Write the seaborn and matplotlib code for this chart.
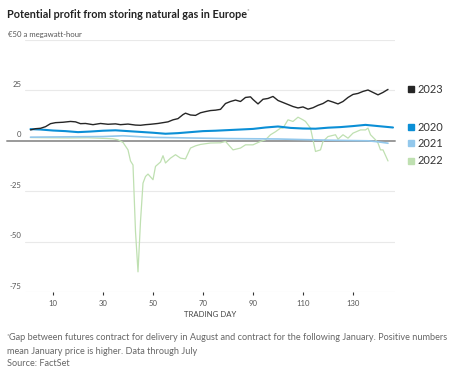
import numpy as np
import pandas as pd
import matplotlib
matplotlib.use("Agg")
import matplotlib.pyplot as plt
import matplotlib.transforms as mtransforms
import seaborn as sns

# --- data (trading day, EUR/MWh) ---
days_2023 = [1, 3, 5, 7, 9, 11, 14, 17, 19, 21, 23, 26, 29, 32, 35, 37, 40, 43, 45, 47,
             49, 52, 54, 56, 58, 60, 62, 63, 65, 67, 69, 71, 73, 75, 77, 79, 81, 83, 85, 87,
             89, 90, 92, 94, 96, 98, 100, 102, 104, 106, 108, 110, 112, 114, 116, 118, 120,
             122, 124, 126, 128, 130, 132, 134, 136, 138, 140, 142, 144]
vals_2023 = [5.4, 6.0, 6.2, 7.0, 8.5, 9.0, 9.2, 9.6, 9.4, 8.5, 8.6, 8.0, 8.6, 8.2, 8.4, 8.0, 8.3,
             7.8, 7.7, 8.0, 8.2, 8.6, 9.0, 9.4, 10.4, 11.0, 13.0, 13.7, 12.8, 12.6, 13.9, 14.5,
             15.0, 15.2, 15.6, 18.5, 19.5, 20.2, 19.5, 21.5, 21.8, 20.5, 18.3, 20.6, 21.0, 22.0,
             20.0, 19.0, 18.0, 17.0, 16.3, 16.8, 15.7, 16.4, 17.6, 18.5, 20.0, 19.2, 18.3, 19.5,
             21.5, 23.0, 23.5, 24.5, 25.2, 24.0, 22.8, 24.0, 25.5]

days_2020 = [1, 5, 10, 15, 20, 25, 30, 35, 40, 45, 50, 55, 60, 65, 70, 75, 80, 85, 90, 95,
             100, 105, 110, 115, 120, 125, 130, 135, 140, 146]
vals_2020 = [5.8, 5.6, 5.1, 4.8, 4.3, 4.6, 5.0, 5.2, 4.8, 4.4, 4.0, 3.5, 3.8, 4.3, 4.8, 5.0,
             5.3, 5.6, 5.9, 6.6, 7.1, 6.4, 6.1, 6.0, 6.5, 6.8, 7.3, 7.9, 7.3, 6.6]

days_2021 = [1, 10, 20, 30, 38, 45, 50, 60, 70, 80, 90, 100, 110, 120, 130, 136, 140, 144]
vals_2021 = [1.8, 1.9, 2.0, 2.1, 2.5, 2.0, 1.7, 1.5, 1.3, 1.1, 1.0, 0.9, 0.6, 0.3, 0.1, 0.0,
             -0.5, -1.2]

days_2022 = [1, 8, 16, 24, 30, 34, 36, 38, 40, 41, 42, 43, 44, 45, 46, 47, 48, 50, 51, 53,
             54, 55, 57, 59, 61, 63, 65, 67, 69, 73, 77, 79, 82, 85, 87, 90, 93, 95, 97, 99,
             101, 102, 104, 106, 108, 110, 111, 113, 114, 115, 117, 118, 120, 123, 124, 126,
             128, 130, 133, 135, 136, 137, 139, 140, 141, 142, 144]
vals_2022 = [1.6, 1.5, 1.4, 1.5, 1.2, 1.0, 0.5, -0.8, -4.5, -10.0, -12.0, -45.0, -65.0, -40.0,
             -21.0, -17.7, -16.5, -19.3, -12.7, -10.5, -7.4, -11.0, -8.6, -6.9, -8.6, -9.0,
             -3.6, -2.5, -1.8, -1.1, -1.0, -0.3, -4.5, -3.6, -2.0, -2.0, -0.3, 0.5, 3.0, 4.5,
             6.3, 6.3, 10.4, 9.6, 11.7, 10.4, 9.6, 6.3, 0.5, -5.3, -4.5, -0.3, 2.1, 3.0, 0.8,
             3.0, 1.3, 3.8, 5.4, 5.4, 6.3, 3.0, 0.5, -1.1, -4.5, -4.5, -10.0]

years = ["2022", "2021", "2020", "2023"]  # drawing order
colors = {"2023": "#262626", "2020": "#0b8fd6", "2021": "#93c8ec", "2022": "#bfe0b1"}
widths = {"2023": 1.0, "2020": 1.5, "2021": 1.2, "2022": 0.9}
legend_order = ["2023", "2020", "2021", "2022"]

yticks = [-75, -50, -25, 0, 25, 50]
xticks = [10, 30, 50, 70, 90, 110, 130]

title = "Potential profit from storing natural gas in Europe"
unit_label = "€50 a megawatt-hour"
note_1 = "Gap between futures contract for delivery in August and contract for the following January. Positive numbers"
note_2 = "mean January price is higher. Data through July"
source = "Source: FactSet"

series = {
    "2023": (days_2023, vals_2023),
    "2020": (days_2020, vals_2020),
    "2021": (days_2021, vals_2021),
    "2022": (days_2022, vals_2022),
}
df = pd.concat(
    [pd.DataFrame({"day": d, "value": v, "year": y}) for y, (d, v) in series.items()],
    ignore_index=True,
)

sns.set_style("white")
plt.rcParams["font.family"] = ["Lato", "DejaVu Sans"]

fig = plt.figure(figsize=(4.68, 3.74), dpi=100)
ax = fig.add_axes([25 / 468, 1 - 292 / 374, 370 / 468, 252 / 374])

# gridlines
for t in yticks:
    if t == 0:
        ax.axhline(0, xmin=-0.049, xmax=1, color="#9a9a9a", lw=1.4, clip_on=False, zorder=1)
    else:
        ax.axhline(t, color="#e9e9e9", lw=0.8, zorder=0)

sns.lineplot(data=df, x="day", y="value", hue="year", hue_order=years, palette=colors,
             size="year", sizes=widths, size_order=years, estimator=None, sort=True,
             legend=False, ax=ax, zorder=2)

ax.set_xlim(-1.2, 146.8)
ax.set_ylim(-75, 50)
for s in ax.spines.values():
    s.set_visible(False)

ax.set_xticks(xticks)
ax.set_xticklabels([str(t) for t in xticks])
ax.tick_params(axis="x", length=2.5, width=0.8, color="#333333", pad=3,
               labelsize=5.6, labelcolor="#555555", bottom=True)
ax.set_xlabel("TRADING DAY", fontsize=5.6, color="#444444", labelpad=3)
ax.set_ylabel("")
ax.set_yticks([])

# y tick labels sit above their gridlines
blend = mtransforms.blended_transform_factory(ax.transAxes, ax.transData)
for t in yticks:
    if t == 50:
        ax.text(-0.046, t + 1.2, unit_label, transform=blend, ha="left", va="bottom",
                fontsize=5.6, color="#555555")
    else:
        ax.text(-0.009, t + 1.2, str(t), transform=blend, ha="right", va="bottom",
                fontsize=5.6, color="#555555")

# end labels with colour squares
for y in legend_order:
    last = series[y][1][-1]
    ax.plot([1.043], [last], marker="s", ms=4.5, color=colors[y], transform=blend,
            clip_on=False, linestyle="none")
    ax.text(1.062, last, y, transform=blend, ha="left", va="center",
            fontsize=7.9, color="#333333")

# title and footnotes
t_obj = fig.text(7 / 468, 1 - 14 / 374, title, ha="left", va="center",
                 fontsize=7.75, fontweight="bold", color="#222222")
ax.annotate("*", xy=(1, 1), xycoords=t_obj, ha="left", va="top",
            fontsize=4.5, color="#777777")

n1 = fig.text(9 / 468, 1 - 338 / 374, note_1, ha="left", va="center",
              fontsize=6.6, color="#666666")
ax.annotate("*", xy=(0, 1), xycoords=n1, ha="right", va="top",
            fontsize=4.5, color="#777777")
fig.text(7 / 468, 1 - 351 / 374, note_2, ha="left", va="center",
         fontsize=6.6, color="#666666")
fig.text(7 / 468, 1 - 364 / 374, source, ha="left", va="center",
         fontsize=6.6, color="#666666")

fig.savefig("out.png", dpi=100)
